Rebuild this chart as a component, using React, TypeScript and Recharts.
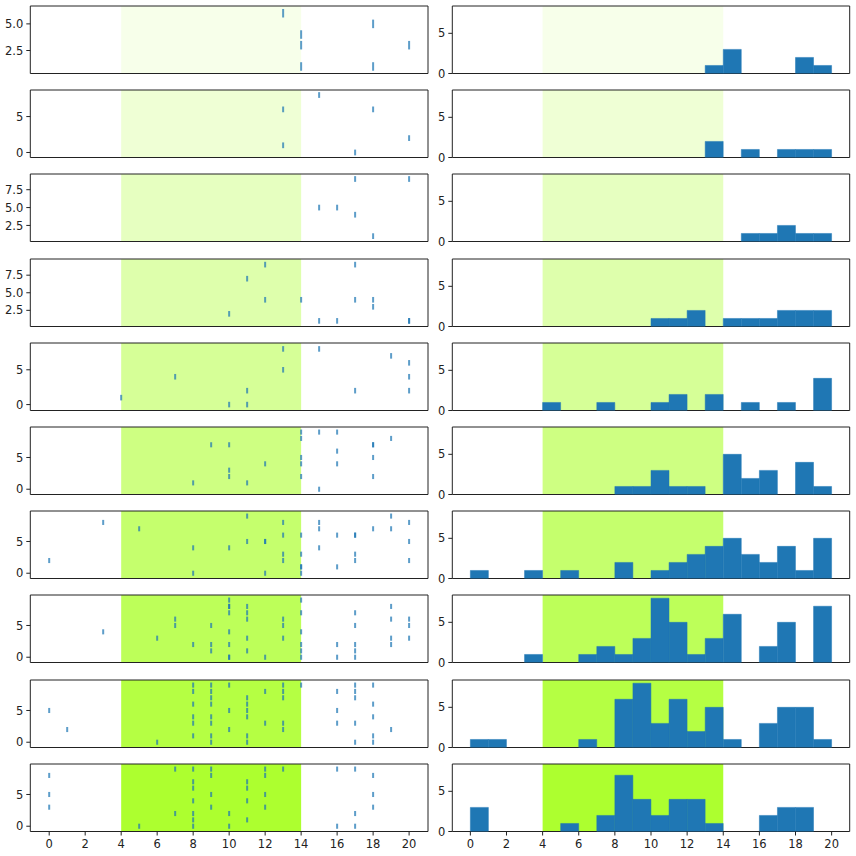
import React from "react";
import {
  Bar,
  BarChart,
  ReferenceArea,
  Scatter,
  ScatterChart,
  XAxis,
  YAxis,
} from "recharts";

// event positions per row (x = time step, y = channel)
const eventX: number[][] = [
  [13, 14, 14, 14, 18, 18, 20],
  [13, 13, 15, 17, 18, 20],
  [15, 16, 17, 17, 18, 20],
  [10, 11, 12, 12, 14, 15, 16, 17, 17, 18, 18, 20, 20],
  [4, 7, 10, 11, 11, 13, 13, 15, 17, 19, 20, 20, 20],
  [8, 9, 10, 10, 10, 11, 12, 14, 14, 14, 14, 14, 15, 15, 16, 16, 16, 18, 18, 18, 18, 19],
  [0, 3, 5, 8, 8, 10, 11, 11, 12, 12, 12, 13, 13, 13, 13, 14, 14, 14, 14, 14, 15, 15, 15, 16, 16, 17, 17, 17, 17, 18, 19, 19, 20, 20, 20],
  [3, 6, 7, 7, 8, 9, 9, 9, 10, 10, 10, 10, 10, 10, 10, 10, 11, 11, 11, 11, 11, 12, 13, 13, 13, 14, 14, 14, 14, 14, 14, 16, 16, 17, 17, 17, 17, 17, 19, 19, 19, 19, 20, 20, 20],
  [0, 1, 6, 8, 8, 8, 8, 8, 8, 9, 9, 9, 9, 9, 9, 9, 9, 10, 10, 10, 11, 11, 11, 11, 11, 11, 12, 12, 13, 13, 13, 13, 13, 14, 16, 16, 16, 17, 17, 17, 17, 17, 18, 18, 18, 18, 18, 19],
  [0, 0, 0, 5, 7, 7, 8, 8, 8, 8, 8, 8, 8, 9, 9, 9, 9, 10, 10, 11, 11, 11, 11, 12, 12, 12, 12, 13, 16, 16, 17, 17, 17, 18, 18, 18],
];

const eventY: number[][] = [
  [6, 4, 3, 1, 5, 1, 3],
  [6, 1, 8, 0, 6, 2],
  [5, 5, 9, 4, 1, 9],
  [2, 7, 9, 4, 4, 1, 1, 9, 4, 4, 3, 1, 1],
  [1, 4, 0, 0, 2, 8, 5, 8, 2, 7, 6, 4, 2],
  [1, 7, 7, 3, 2, 1, 4, 9, 8, 5, 4, 2, 9, 0, 9, 6, 4, 7, 7, 5, 2, 8],
  [2, 8, 7, 4, 0, 4, 9, 5, 5, 5, 0, 8, 6, 3, 2, 6, 3, 1, 1, 0, 8, 7, 4, 6, 1, 6, 6, 3, 2, 7, 9, 7, 8, 5, 2],
  [4, 3, 6, 5, 2, 5, 2, 1, 9, 8, 8, 7, 4, 2, 0, 0, 8, 7, 6, 3, 1, 0, 6, 5, 3, 9, 7, 4, 2, 1, 0, 2, 0, 7, 5, 2, 1, 0, 8, 6, 3, 2, 6, 5, 3],
  [5, 2, 0, 9, 8, 6, 4, 3, 1, 9, 8, 7, 6, 4, 3, 1, 0, 9, 5, 2, 7, 6, 5, 4, 1, 0, 8, 3, 9, 8, 7, 3, 2, 9, 8, 5, 3, 9, 8, 7, 3, 0, 9, 6, 4, 1, 0, 2],
  [8, 5, 3, 0, 9, 2, 9, 7, 6, 4, 2, 1, 0, 9, 8, 5, 3, 2, 0, 7, 6, 4, 1, 9, 8, 5, 3, 9, 9, 0, 9, 2, 0, 8, 5, 3],
];

// histogram counts, bins of width 1 from 0 to 20
const binCenters = [0.5, 1.5, 2.5, 3.5, 4.5, 5.5, 6.5, 7.5, 8.5, 9.5, 10.5, 11.5, 12.5, 13.5, 14.5, 15.5, 16.5, 17.5, 18.5, 19.5];
const histCounts: number[][] = [
  [0, 0, 0, 0, 0, 0, 0, 0, 0, 0, 0, 0, 0, 1, 3, 0, 0, 0, 2, 1],
  [0, 0, 0, 0, 0, 0, 0, 0, 0, 0, 0, 0, 0, 2, 0, 1, 0, 1, 1, 1],
  [0, 0, 0, 0, 0, 0, 0, 0, 0, 0, 0, 0, 0, 0, 0, 1, 1, 2, 1, 1],
  [0, 0, 0, 0, 0, 0, 0, 0, 0, 0, 1, 1, 2, 0, 1, 1, 1, 2, 2, 2],
  [0, 0, 0, 0, 1, 0, 0, 1, 0, 0, 1, 2, 0, 2, 0, 1, 0, 1, 0, 4],
  [0, 0, 0, 0, 0, 0, 0, 0, 1, 1, 3, 1, 1, 0, 5, 2, 3, 0, 4, 1],
  [1, 0, 0, 1, 0, 1, 0, 0, 2, 0, 1, 2, 3, 4, 5, 3, 2, 4, 1, 5],
  [0, 0, 0, 1, 0, 0, 1, 2, 1, 3, 8, 5, 1, 3, 6, 0, 2, 5, 0, 7],
  [1, 1, 0, 0, 0, 0, 1, 0, 6, 8, 3, 6, 2, 5, 1, 0, 3, 5, 5, 1],
  [3, 0, 0, 0, 0, 1, 0, 2, 7, 4, 2, 4, 4, 1, 0, 0, 2, 3, 3, 0],
];

const xTicks = [0, 2, 4, 6, 8, 10, 12, 14, 16, 18, 20];
const spanAlpha = [0.1, 0.2, 0.3, 0.4, 0.5, 0.6, 0.7, 0.8, 0.9, 1.0];
const leftYDomains: [number, number][] = [
  [0.34, 6.68],
  [-0.7, 8.7],
  [0.25, 9.7],
  [0.2, 9.8],
  [-0.85, 8.85],
  [-0.83, 9.8],
  [-0.83, 9.8],
  [-0.83, 9.8],
  [-0.83, 9.8],
  [-0.83, 9.8],
];
const leftYTicks: number[][] = [
  [2.5, 5],
  [0, 5],
  [2.5, 5, 7.5],
  [2.5, 5, 7.5],
  [0, 5],
  [0, 5],
  [0, 5],
  [0, 5],
  [0, 5],
  [0, 5],
];
const rightYTicks = [0, 5];

const LEFT_X: [number, number] = [-1.05, 21.05];
const RIGHT_X: [number, number] = [-1, 21];
const RIGHT_Y: [number, number] = [0, 8.4];

const ROW_TOP = 6;
const ROW_STEP = 84.2;
const PLOT_H = 67.5;
const PAD_T = 6;
const INK = "#222";
const font = { fontSize: 11.5, fontFamily: "DejaVu Sans", fill: INK };

function fmtY(ticks: number[]) {
  const decimals = ticks.some((t) => !Number.isInteger(t));
  return (v: number) => (decimals ? v.toFixed(1) : String(v));
}

function EventRow({ i }: { i: number }) {
  const last = i === eventX.length - 1;
  const xh = last ? 22 : 10;
  const dom = leftYDomains[i];
  const markH = (0.8 * PLOT_H) / (dom[1] - dom[0]);
  const data = eventX[i].map((x, k) => ({ x, y: eventY[i][k] }));

  const shape = (p: { cx?: number; cy?: number }) => (
    <rect
      x={(p.cx ?? 0) - 1}
      y={(p.cy ?? 0) - markH / 2}
      width={2}
      height={markH}
      fill="#1f77b4"
      fillOpacity={0.72}
    />
  );

  return (
    <div style={{ position: "absolute", left: 0, top: ROW_TOP + ROW_STEP * i - PAD_T }}>
      <ScatterChart width={430} height={PAD_T + PLOT_H + xh} margin={{ top: PAD_T, right: 2, left: 0, bottom: 0 }}>
        <XAxis
          type="number"
          dataKey="x"
          domain={LEFT_X}
          ticks={xTicks}
          interval={0}
          tick={last ? font : false}
          tickSize={4}
          tickMargin={4}
          height={xh}
          axisLine={false}
          tickLine={{ stroke: INK }}
          allowDataOverflow
        />
        <YAxis
          type="number"
          dataKey="y"
          domain={dom}
          ticks={leftYTicks[i]}
          interval={0}
          tickFormatter={fmtY(leftYTicks[i])}
          tick={font}
          tickSize={4}
          tickMargin={3}
          width={30.3}
          axisLine={false}
          tickLine={{ stroke: INK }}
          allowDataOverflow
        />
        <ReferenceArea x1={4} x2={14} fill="#adff2f" fillOpacity={spanAlpha[i]} stroke="none" />
        <Scatter data={data} shape={shape} isAnimationActive={false} />
        <ReferenceArea
          x1={LEFT_X[0]}
          x2={LEFT_X[1]}
          y1={dom[0]}
          y2={dom[1]}
          fill="none"
          fillOpacity={0}
          stroke={INK}
          strokeWidth={1}
          ifOverflow="visible"
        />
      </ScatterChart>
    </div>
  );
}

function HistRow({ i }: { i: number }) {
  const last = i === histCounts.length - 1;
  const xh = last ? 22 : 10;
  const data = binCenters.map((x, k) => ({ x, count: histCounts[i][k] }));

  return (
    <div style={{ position: "absolute", left: 430, top: ROW_TOP + ROW_STEP * i - PAD_T }}>
      <BarChart
        width={426}
        height={PAD_T + PLOT_H + xh}
        data={data}
        margin={{ top: PAD_T, right: 6.3, left: 0, bottom: 0 }}
        barCategoryGap={0}
        barGap={0}
      >
        <XAxis
          type="number"
          dataKey="x"
          domain={RIGHT_X}
          ticks={xTicks}
          interval={0}
          tick={last ? font : false}
          tickSize={4}
          tickMargin={4}
          height={xh}
          axisLine={false}
          tickLine={{ stroke: INK }}
          allowDataOverflow
        />
        <YAxis
          type="number"
          domain={RIGHT_Y}
          ticks={rightYTicks}
          interval={0}
          tick={font}
          tickSize={4}
          tickMargin={3}
          width={22.3}
          axisLine={false}
          tickLine={{ stroke: INK }}
          allowDataOverflow
        />
        <ReferenceArea x1={4} x2={14} fill="#adff2f" fillOpacity={spanAlpha[i]} stroke="none" />
        <Bar dataKey="count" fill="#1f77b4" stroke="#1f77b4" strokeWidth={0.5} isAnimationActive={false} />
        <ReferenceArea
          x1={RIGHT_X[0]}
          x2={RIGHT_X[1]}
          y1={RIGHT_Y[0]}
          y2={RIGHT_Y[1]}
          fill="none"
          fillOpacity={0}
          stroke={INK}
          strokeWidth={1}
          ifOverflow="visible"
        />
      </BarChart>
    </div>
  );
}

export default function App() {
  return (
    <div style={{ position: "absolute", left: 0, top: 0, width: 856, height: 856, background: "#fff" }}>
      {eventX.map((_, i) => (
        <EventRow key={`e${i}`} i={i} />
      ))}
      {histCounts.map((_, i) => (
        <HistRow key={`h${i}`} i={i} />
      ))}
    </div>
  );
}
